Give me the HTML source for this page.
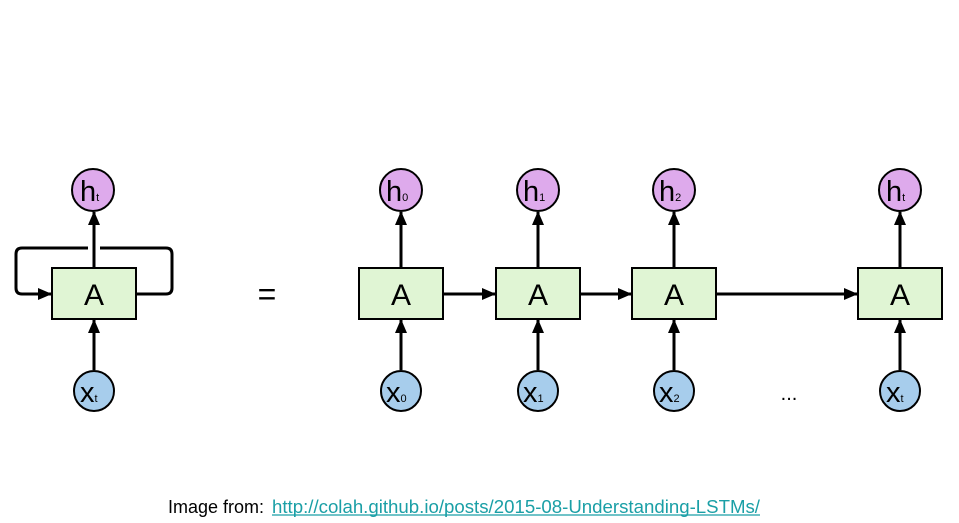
<!DOCTYPE html>
<html><head><meta charset="utf-8"><style>
html,body{margin:0;padding:0;background:#fff;width:959px;height:523px;overflow:hidden}
svg{display:block}
text{font-family:"Liberation Sans",sans-serif}
</style></head><body>
<svg width="959" height="523" viewBox="0 0 959 523" xmlns="http://www.w3.org/2000/svg">
<defs>
<marker id="ar" markerWidth="14" markerHeight="14" refX="13" refY="7" orient="auto" markerUnits="userSpaceOnUse">
<path d="M0,1 L14,7 L0,13 z" fill="#000"/>
</marker>
</defs>
<g stroke="#000" stroke-width="3" fill="none">
<path d="M136,294 H166 Q172,294 172,288 V254 Q172,248 166,248 H100"/>
<path d="M88,248 H22 Q16,248 16,254 V288 Q16,294 22,294 H51" marker-end="url(#ar)"/>
<line x1="94" y1="268" x2="94" y2="212" marker-end="url(#ar)"/>
<line x1="94" y1="370" x2="94" y2="320" marker-end="url(#ar)"/>
<line x1="401" y1="268" x2="401" y2="212" marker-end="url(#ar)"/>
<line x1="401" y1="370" x2="401" y2="320" marker-end="url(#ar)"/>
<line x1="538" y1="268" x2="538" y2="212" marker-end="url(#ar)"/>
<line x1="538" y1="370" x2="538" y2="320" marker-end="url(#ar)"/>
<line x1="674" y1="268" x2="674" y2="212" marker-end="url(#ar)"/>
<line x1="674" y1="370" x2="674" y2="320" marker-end="url(#ar)"/>
<line x1="900" y1="268" x2="900" y2="212" marker-end="url(#ar)"/>
<line x1="900" y1="370" x2="900" y2="320" marker-end="url(#ar)"/>
<line x1="443" y1="294" x2="495" y2="294" marker-end="url(#ar)"/>
<line x1="580" y1="294" x2="631" y2="294" marker-end="url(#ar)"/>
<line x1="716" y1="294" x2="857" y2="294" marker-end="url(#ar)"/>
</g>
<g stroke="#000" stroke-width="2" fill="#e0f5d4">
<rect x="52" y="268" width="84" height="51"/>
<rect x="359" y="268" width="84" height="51"/>
<rect x="496" y="268" width="84" height="51"/>
<rect x="632" y="268" width="84" height="51"/>
<rect x="858" y="268" width="84" height="51"/>
</g>
<g stroke="#000" stroke-width="2" fill="#deaaec">
<circle cx="93" cy="190" r="21"/>
<circle cx="401" cy="190" r="21"/>
<circle cx="538" cy="190" r="21"/>
<circle cx="674" cy="190" r="21"/>
<circle cx="900" cy="190" r="21"/>
</g>
<g stroke="#000" stroke-width="2" fill="#a7cdec">
<circle cx="94" cy="391" r="20"/>
<circle cx="401" cy="391" r="20"/>
<circle cx="538" cy="391" r="20"/>
<circle cx="674" cy="391" r="20"/>
<circle cx="900" cy="391" r="20"/>
</g>
<g font-size="30" text-anchor="middle" fill="#000">
<text x="94" y="305">A</text>
<text x="401" y="305">A</text>
<text x="538" y="305">A</text>
<text x="674" y="305">A</text>
<text x="900" y="305">A</text>
</g>
<g font-size="29" fill="#000">
<text x="80" y="201">h<tspan font-size="11">t</tspan></text>
<text x="386" y="201">h<tspan font-size="11">0</tspan></text>
<text x="523" y="201">h<tspan font-size="11">1</tspan></text>
<text x="659" y="201">h<tspan font-size="11">2</tspan></text>
<text x="886" y="201">h<tspan font-size="11">t</tspan></text>
<text x="80" y="402">x<tspan font-size="11">t</tspan></text>
<text x="386" y="402">x<tspan font-size="11">0</tspan></text>
<text x="523" y="402">x<tspan font-size="11">1</tspan></text>
<text x="659" y="402">x<tspan font-size="11">2</tspan></text>
<text x="886" y="402">x<tspan font-size="11">t</tspan></text>
</g>
<text x="267" y="305" font-size="32" text-anchor="middle">=</text>
<text x="789" y="400" font-size="20" text-anchor="middle">...</text>
<text x="168" y="513" font-size="18" fill="#000">Image from: </text>
<text x="272" y="513" font-size="18" fill="#1a9fa6" textLength="488" lengthAdjust="spacingAndGlyphs">http://colah.github.io/posts/2015-08-Understanding-LSTMs/</text>
<line x1="272" y1="515" x2="760" y2="515" stroke="#1a9fa6" stroke-width="1.2"/>
</svg>
</body></html>
